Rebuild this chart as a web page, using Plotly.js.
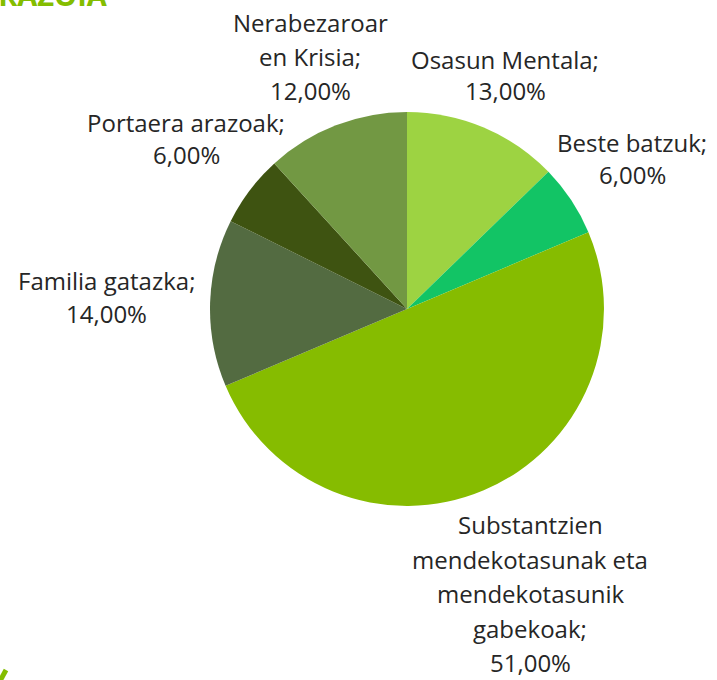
<!DOCTYPE html>
<html>
<head>
<meta charset="utf-8">
<script src="https://cdn.plot.ly/plotly-3.0.1.min.js"></script>
<style>html,body{margin:0;padding:0;background:#fff;}#chart{width:717px;height:680px;}</style>
</head>
<body>
<div id="chart"></div>
<script>
// ---- data ----
var categories = [
  "Osasun Mentala",
  "Beste batzuk",
  "Substantzien mendekotasunak eta mendekotasunik gabekoak",
  "Familia gatazka",
  "Portaera arazoak",
  "Nerabezaroar en Krisia"
];
var values = [13, 6, 51, 14, 6, 12];
var labelLines = [
  ["Osasun Mentala;"],
  ["Beste batzuk;"],
  ["Substantzien", "mendekotasunak eta", "mendekotasunik", "gabekoak;"],
  ["Familia gatazka;"],
  ["Portaera arazoak;"],
  ["Nerabezaroar", "en Krisia;"]
];
var colors = ["#9dd342", "#12c465", "#86bc00", "#536b41", "#3e5311", "#729843"];

// ---- layout helpers (pixel placement of data labels) ----
var W = 717, H = 680;
var FS = 24;
// [center x px, first baseline px, line spacing px]
var labelPos = [
  [505, 69, 31],
  [632, 152, 32],
  [530, 534, 34.5],
  [106, 290, 33],
  [186, 132, 32],
  [310, 32, 34]
];
function fmtPct(v){ return v.toFixed(2).replace(".", ",") + "%"; }

var annotations = [];
for (var i = 0; i < categories.length; i++) {
  var lines = labelLines[i].concat([fmtPct(values[i])]);
  for (var j = 0; j < lines.length; j++) {
    var base = labelPos[i][1] + j * labelPos[i][2];
    var midY = base - 0.38 * FS;
    annotations.push({
      xref: "paper", yref: "paper",
      x: labelPos[i][0] / W, y: 1 - midY / H,
      xanchor: "center", yanchor: "middle",
      text: lines[j], showarrow: false,
      font: {family: "Open Sans, sans-serif", size: FS, color: "#262626"}
    });
  }
}
// header fragment (cropped at the top-left of the original)
annotations.push({
  xref: "paper", yref: "paper", x: 110 / W, y: 1 - 16 / H,
  xanchor: "right", yanchor: "bottom",
  text: "<b>ARRAZOIA</b>", showarrow: false,
  font: {family: "Open Sans, sans-serif", size: 29, color: "#84bd00"}
});

var cx = 407, cy = 309, r = 197;
var trace = {
  type: "pie",
  labels: categories,
  values: values,
  sort: false,
  direction: "clockwise",
  rotation: 0,
  textinfo: "none",
  hoverinfo: "label+value",
  marker: {colors: colors, line: {width: 0}},
  domain: {x: [(cx - r) / W, (cx + r) / W], y: [1 - (cy + r) / H, 1 - (cy - r) / H]},
  showlegend: false
};

var layout = {
  width: W, height: H,
  margin: {l: 0, r: 0, t: 0, b: 0},
  paper_bgcolor: "#ffffff",
  showlegend: false,
  annotations: annotations,
  shapes: [{
    type: "line", xref: "paper", yref: "paper",
    x0: 0 / W, y0: 1 - 681 / H, x1: 6 / W, y1: 1 - 670 / H,
    line: {color: "#84bd00", width: 5}
  }]
};

Plotly.newPlot("chart", [trace], layout, {displayModeBar: false, staticPlot: true});
</script>
</body>
</html>
